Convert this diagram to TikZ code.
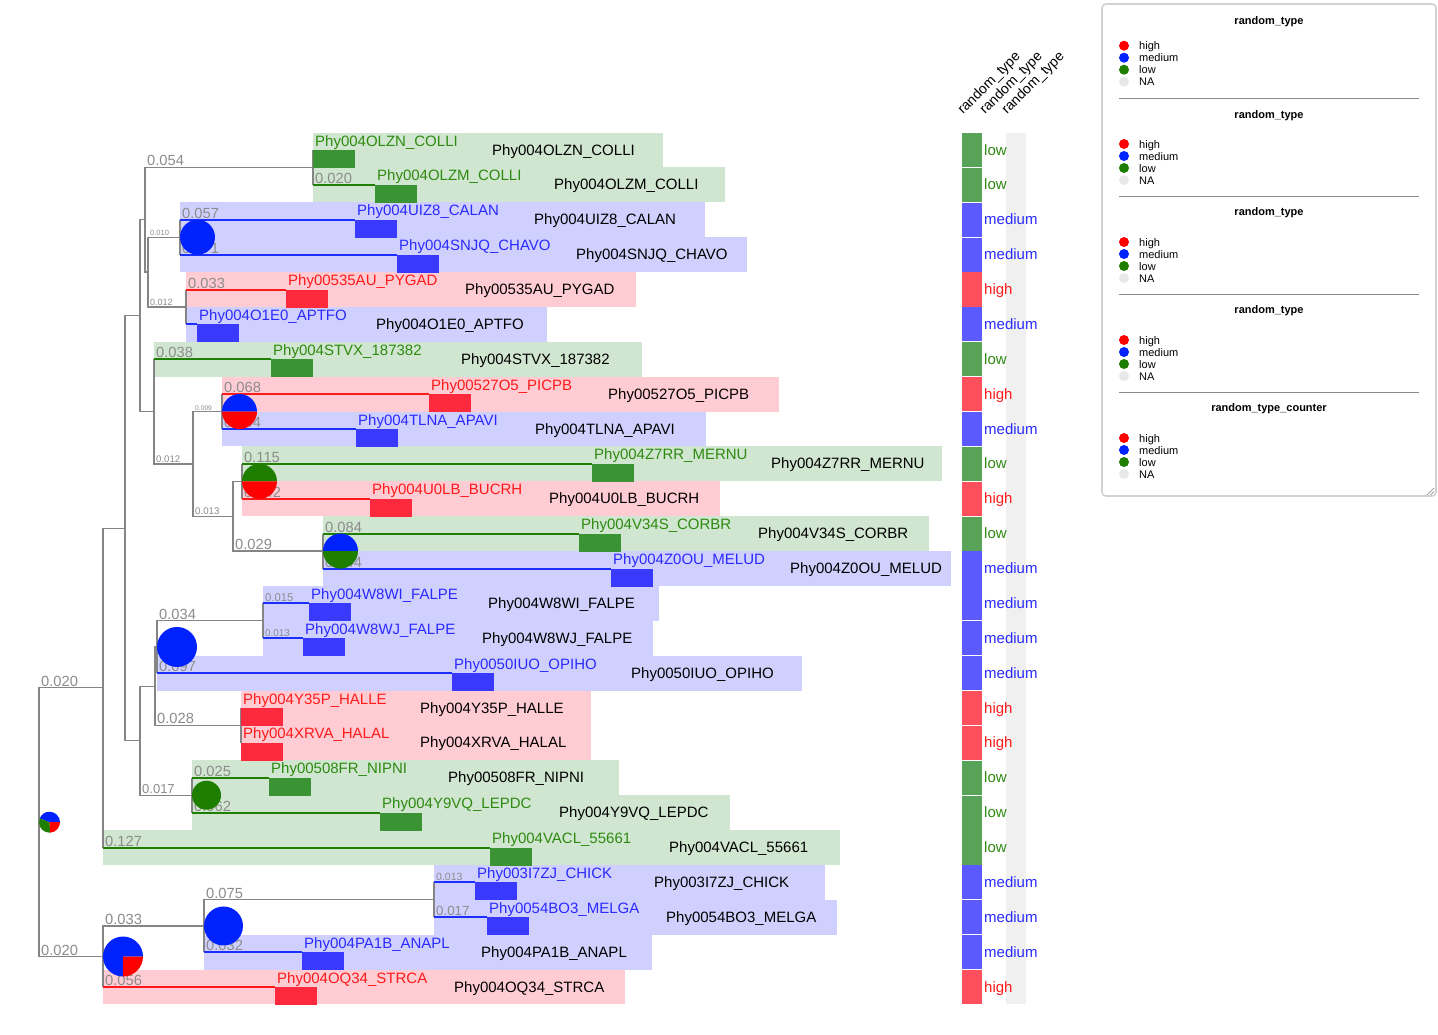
\documentclass[tikz,border=0pt]{standalone}
\usepackage{fontspec}
\setmainfont{Liberation Sans}
\definecolor{Bandlow}{HTML}{D0E6D0}
\definecolor{Bandmed}{HTML}{D0D0FF}
\definecolor{Bandhigh}{HTML}{FFCCD3}
\definecolor{Linelow}{HTML}{1F7F00}
\definecolor{Linemed}{HTML}{1A2EFF}
\definecolor{Linehigh}{HTML}{FF1A1A}
\definecolor{Boxlow}{HTML}{3A9434}
\definecolor{Boxmed}{HTML}{3A3AFF}
\definecolor{Boxhigh}{HTML}{FC2A3C}
\definecolor{Txtlow}{HTML}{2E8A10}
\definecolor{Txtmed}{HTML}{2A2AFF}
\definecolor{Txthigh}{HTML}{FF1A1A}
\definecolor{Celllow}{HTML}{58A358}
\definecolor{Cellmed}{HTML}{5A5AFF}
\definecolor{Cellhigh}{HTML}{FE505C}
\definecolor{pieblue}{HTML}{0022FF}
\definecolor{piered}{HTML}{FF0000}
\definecolor{piegreen}{HTML}{1E7E00}
\definecolor{nagray}{HTML}{F0F0F0}
\definecolor{nadot}{HTML}{E8E8E8}
\definecolor{treegray}{HTML}{858585}
\definecolor{labgray}{HTML}{8C8C8C}
\definecolor{legborder}{HTML}{D2D2D2}
\definecolor{legsepc}{HTML}{8A8A8A}
\def\vallow{low}\def\valmed{medium}\def\valhigh{high}
\newcommand{\pieslice}[5]{\fill[#5] ([xshift=#2pt]#1) -- ++({-(#3)}:#2) arc[start angle={-(#3)}, end angle={-(#4)}, radius=#2] -- cycle;}
\newcommand{\piefull}[3]{\fill[#3] ([xshift=#2pt]#1) circle[radius=#2];}
% id/row/parent/parent x/tip x/category/name/black-label offset/band extension
\def\leaflist{OLZN/0/n1/313/313/low/Phy004OLZN\_COLLI/179/350,
OLZM/1/n1/313/375/low/Phy004OLZM\_COLLI/179/350,
UIZ8/2/n2/180/355/med/Phy004UIZ8\_CALAN/179/350,
SNJQ/3/n2/180/397/med/Phy004SNJQ\_CHAVO/179/350,
PYGAD/4/n3/186/286/high/Phy00535AU\_PYGAD/179/350,
APTFO/5/n3/186/197/med/Phy004O1E0\_APTFO/179/350,
STVX/6/n11/154/271/low/Phy004STVX\_187382/190/371,
PICPB/7/n6/222/429/high/Phy00527O5\_PICPB/179/350,
TLNA/8/n6/222/356/med/Phy004TLNA\_APAVI/179/350,
Z7RR/9/n7/242/592/low/Phy004Z7RR\_MERNU/179/350,
U0LB/10/n7/242/370/high/Phy004U0LB\_BUCRH/179/350,
V34S/11/n8/323/579/low/Phy004V34S\_CORBR/179/350,
Z0OU/12/n8/323/611/med/Phy004Z0OU\_MELUD/179/350,
W8WI/13/n13/263/309/med/Phy004W8WI\_FALPE/179/350,
W8WJ/14/n13/263/303/med/Phy004W8WJ\_FALPE/179/350,
IUO/15/n14/157/452/med/Phy0050IUO\_OPIHO/179/350,
Y35P/16/n15/241/241/high/Phy004Y35P\_HALLE/179/350,
XRVA/17/n15/241/241/high/Phy004XRVA\_HALAL/179/350,
NIPNI/18/n17/192/269/low/Phy00508FR\_NIPNI/179/350,
Y9VQ/19/n17/192/380/low/Phy004Y9VQ\_LEPDC/179/350,
VACL/20/n20/103/490/low/Phy004VACL\_55661/179/350,
CHICK/21/n21/434/475/med/Phy003I7ZJ\_CHICK/179/350,
MELGA/22/n21/434/487/med/Phy0054BO3\_MELGA/179/350,
ANAPL/23/n22/204/302/med/Phy004PA1B\_ANAPL/179/350,
STRCA/24/n23/103/275/high/Phy004OQ34\_STRCA/179/350}
\begin{document}
\begin{tikzpicture}[x=1pt,y=-1pt,
  treeline/.style={draw=treegray,line width=1.3pt},
  leafln/.style={line width=2pt},
  blab/.style={text=labgray,inner sep=0pt,anchor=base west},
  txt/.style={inner sep=0pt,anchor=base west,font=\fontsize{15}{17}\selectfont},
  hdr/.style={inner sep=0pt,anchor=base west,rotate=45,font=\fontsize{14}{16}\selectfont},
  legtitle/.style={inner sep=0pt,anchor=base,font=\fontsize{11}{13}\selectfont\bfseries},
  legitem/.style={inner sep=0pt,anchor=base west,font=\fontsize{11}{13}\selectfont},
]
\useasboundingbox (0,0) rectangle (1438,1034);
\fill[white] (0,0) rectangle (1438,1034);
% internal nodes
\coordinate (root) at (39,822.2);
\coordinate (n20) at (103,687.8);
\coordinate (n23) at (103,956.5);
\coordinate (n19) at (125,528.2);
\coordinate (n12) at (140,315.66);
\coordinate (n18) at (140,740.7);
\coordinate (n5) at (145,219.75);
\coordinate (n11) at (154,411.56);
\coordinate (n1) at (313,167.44);
\coordinate (n4) at (148,272.06);
\coordinate (n2) at (180,237.19);
\coordinate (n3) at (186,306.94);
\coordinate (n10) at (193,463.88);
\coordinate (n6) at (222,411.56);
\coordinate (n9) at (233,516.19);
\coordinate (n7) at (242,481.31);
\coordinate (n8) at (323,551.06);
\coordinate (n16) at (155,686.2);
\coordinate (n14) at (157,646.97);
\coordinate (n13) at (263,620.81);
\coordinate (n15) at (241,725.44);
\coordinate (n17) at (192,795.19);
\coordinate (n22) at (204,925.97);
\coordinate (n21) at (434,899.8);
% pass 1: bands, data cells
\foreach \lid/\rw/\pn/\px/\ex/\ct/\nm/\bo/\be in \leaflist {
  \pgfmathsetmacro\yy{150+34.875*\rw}
  \pgfmathsetmacro\bend{min(\ex+\be,951)}
  \fill[fill=Band\ct] (\px,\yy-17.44) rectangle (\bend,\yy+17.44);
  \fill[fill=Cell\ct] (962,\yy-17.1) rectangle (982,\yy+17.1);
}
\fill[nagray] (1006,132.5) rectangle (1026,1004.4);
% internal branches
\foreach \a/\b in {root/n20,root/n23,n20/n19,n19/n12,n19/n18,n12/n5,n12/n11,n5/n1,n5/n4,n4/n2,n4/n3,n11/n10,n10/n6,n10/n9,n9/n7,n9/n8,n18/n16,n18/n17,n16/n14,n16/n15,n14/n13,n23/n22,n22/n21}
  \draw[treeline] (\a) |- (\b);
% leaf branches
\foreach \lid/\rw/\pn/\px/\ex/\ct/\nm/\bo/\be in \leaflist {
  \pgfmathsetmacro\yy{150+34.875*\rw}
  \coordinate (tip-\lid) at (\ex,\yy);
  \draw[treeline] (\pn) -- (\pn |- tip-\lid);
  \draw[leafln,draw=Line\ct] (\pn |- tip-\lid) -- (tip-\lid);
}
% boxes and labels
\foreach \lid/\rw/\pn/\px/\ex/\ct/\nm/\bo/\be in \leaflist {
  \pgfmathsetmacro\yy{150+34.875*\rw}
  \fill[fill=Box\ct] (tip-\lid) rectangle ++(41.5,18);
  \node[txt,text=Txt\ct] (cl-\lid) at (\ex+2,\yy-4) {\nm};
  \node[txt] (bl-\lid) at (\ex+\bo,\yy+5) {\nm};
  \node[txt,text=Txt\ct] (dv-\lid) at (984,\yy+5) {\csname val\ct\endcsname};
}
% branch length labels
\foreach \bi/\bx/\by/\bt/\fs in {
 a/147/165.9/0.054/14.7, b/150/235.7/0.010/7.5, c/150/305.4/0.012/9,
 d/195/410/0.009/6.7, e/235/549.5/0.029/14.7, f/195/514.7/0.013/9.7,
 g/156/462.4/0.012/9.6, h/159/619.3/0.034/14.7, i/157/723.9/0.028/14.7,
 j/142/793.7/0.017/13, k/41/686.3/0.020/14.7, l/206/898.3/0.075/14.7,
 m/105/924.5/0.033/14.7, n/41/955/0.020/14.7,
 o/315/183.4/0.020/14.7, p/182/218.3/0.057/14.7, q/182/253.1/0.071/14.7,
 r/188/288/0.033/14.7, s/156/357.8/0.038/14.7, t/224/392.6/0.068/14.7,
 u/224/427.5/0.044/14.7, v/244/462.4/0.115/14.7, w/244/497.3/0.042/14.7,
 x/325/532.1/0.084/14.7, y/325/567/0.044/14.7, z/265/601.9/0.015/11.3,
 aa/265/636.8/0.013/9.9, ab/159/671.6/0.097/14.7, ac/194/776.3/0.025/14.7,
 ad/194/811.1/0.062/14.7, ae/105/846/0.127/14.7, af/436/880.9/0.013/10.5,
 ag/436/915.8/0.017/13.3, ah/206/950.6/0.032/14.7, ai/105/985.5/0.056/14.7}
  \node[blab,font=\fontsize{\fs}{\fs}\selectfont] (bl\bi) at (\bx,\by) {\bt};
% pies
\pieslice{root}{10.5}{0}{158.4}{pieblue}
\pieslice{root}{10.5}{158.4}{273.6}{piegreen}
\pieslice{root}{10.5}{273.6}{360}{piered}
\pieslice{n23}{20}{0}{270}{pieblue}
\pieslice{n23}{20}{270}{360}{piered}
\piefull{n22}{19.5}{pieblue}
\piefull{n2}{17.5}{pieblue}
\pieslice{n6}{17.5}{0}{180}{pieblue}
\pieslice{n6}{17.5}{180}{360}{piered}
\pieslice{n7}{17.5}{0}{180}{piegreen}
\pieslice{n7}{17.5}{180}{360}{piered}
\pieslice{n8}{17.5}{0}{180}{pieblue}
\pieslice{n8}{17.5}{180}{360}{piegreen}
\piefull{n14}{20}{pieblue}
\piefull{n17}{14.5}{piegreen}
% column headers
\foreach \i/\hx in {1/963,2/985,3/1007}
  \node[hdr] (hd\i) at (\hx,115) {random\_type};
% legend
\draw[draw=legborder,line width=1.6pt,rounded corners=4pt,fill=white] (1102,4) rectangle (1436,496);
\foreach \k/\ttl/\ty/\hy in {1/random\_type/24.5/45.7, 2/random\_type/118.5/144, 3/random\_type/215.8/242, 4/random\_type/313.8/340, 5/random\_type\_counter/411.8/438}{
  \node[legtitle] (lt\k) at (1269,\ty) {\ttl};
  \foreach \j/\lbl/\cl in {0/high/piered,1/medium/pieblue,2/low/piegreen,3/NA/nadot}{
    \fill[\cl] (1124,\hy+12*\j) circle[radius=5];
    \node[legitem] (li\k\j) at (1139,\hy+12*\j+4) {\lbl};
  }
}
\foreach \sy in {98.3,196.3,294.3,392.3}
  \draw[draw=legsepc,line width=1.2pt] (1119,\sy) -- (1419,\sy);
\draw[gray!70,line width=0.8pt] (1427,495) -- (1434,488) (1430.5,495) -- (1434,491.5);
\end{tikzpicture}
\end{document}
